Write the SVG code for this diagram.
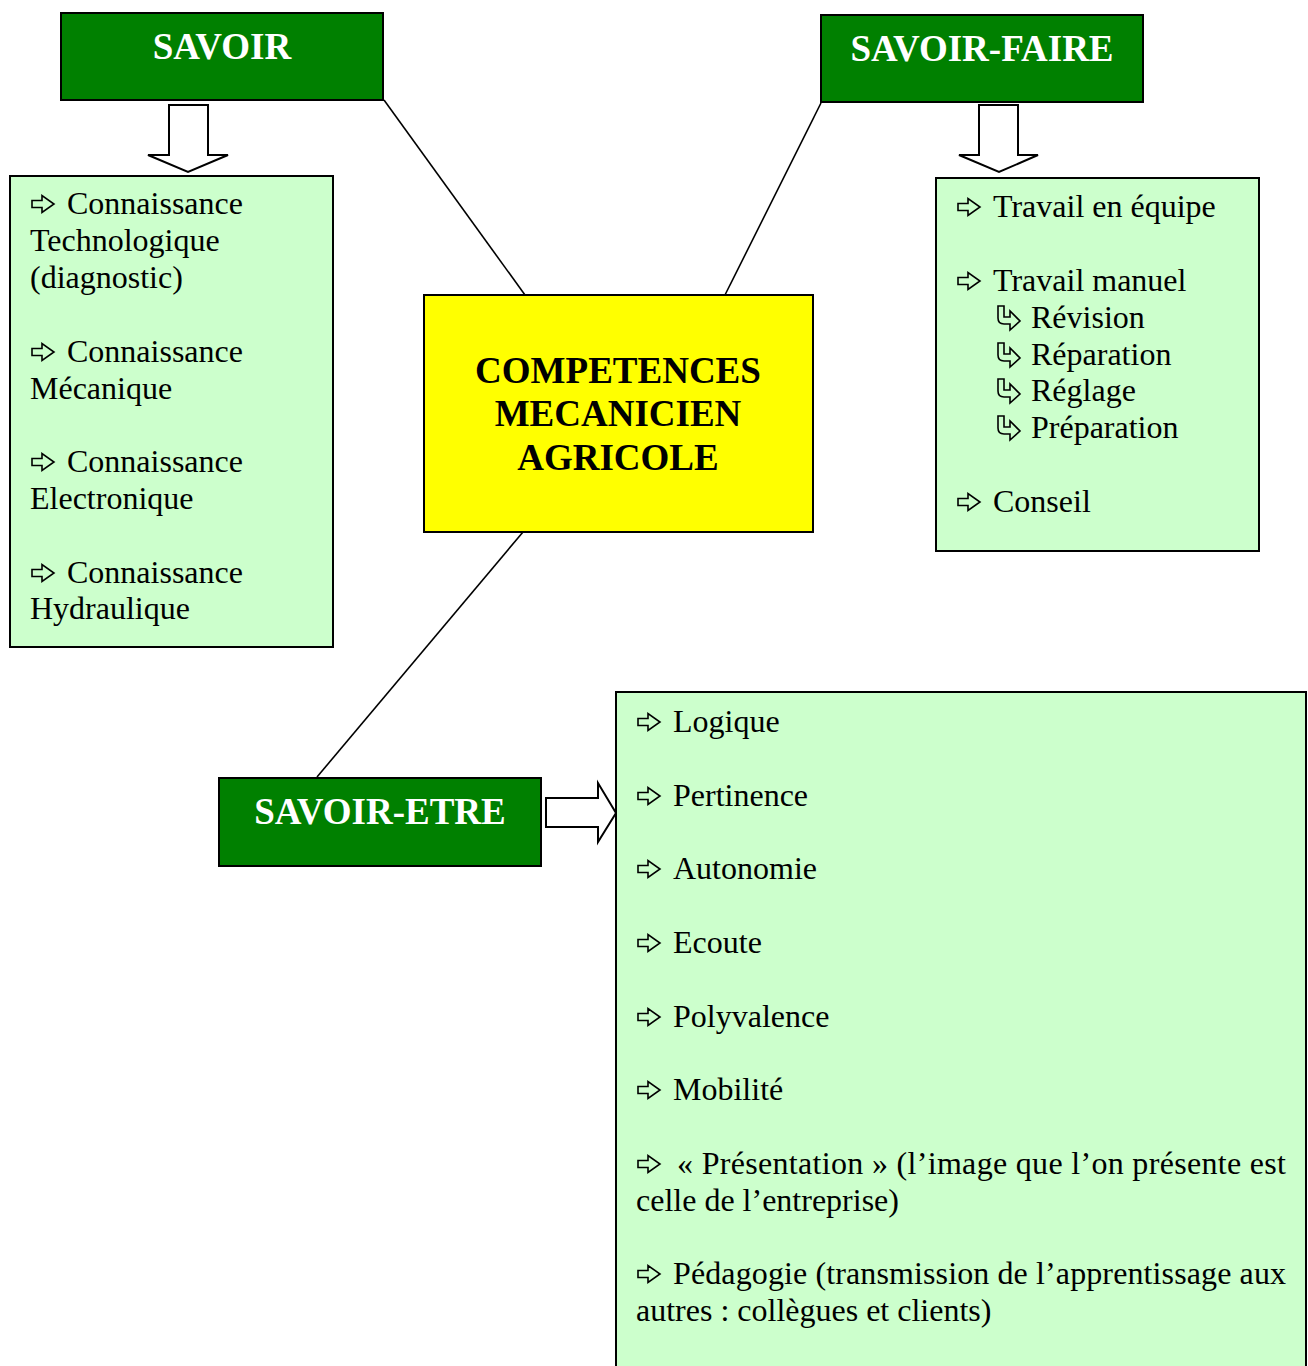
<svg xmlns="http://www.w3.org/2000/svg" width="1308" height="1366" viewBox="0 0 1308 1366">
<style>
.hdr{fill:#008000;stroke:#000;stroke-width:2}
.hdrt{font-family:"Liberation Serif",serif;font-weight:bold;font-size:37px;fill:#fff;text-anchor:middle}
.list{fill:#CCFFCC;stroke:#000;stroke-width:2}
.t{font-family:"Liberation Serif",serif;font-size:32px;fill:#000}
.ct{font-family:"Liberation Serif",serif;font-weight:bold;font-size:37px;fill:#000;text-anchor:middle}
.bar{fill:#fff;stroke:#000;stroke-width:2;stroke-linejoin:miter}
.ico{fill:none;stroke:#000;stroke-width:1.6;stroke-linejoin:miter}
.conn{stroke:#000;stroke-width:1.6;fill:none}
</style>
<defs>
<symbol id="ar" overflow="visible"><path class="ico" d="M0,-3.5 H10 V-8.5 L22,0 L10,8.5 V3.5 H0 Z"/></symbol>
<symbol id="hk" overflow="visible"><path class="ico" d="M0,0 H6 V11 H12 V5 L22,15 L12,24 V18 H6 Q0,18 0,12 Z"/></symbol>
</defs>

<g id="connectors">
<line class="conn" x1="384" y1="100" x2="525" y2="295"/>
<line class="conn" x1="821" y1="103" x2="725" y2="295"/>
<line class="conn" x1="523" y1="532" x2="317" y2="777"/>
<path class="bar" d="M169,105 H208 V155 H228 L188,172 L148,155 H169 Z"/>
<path class="bar" d="M979,105 H1018 V155 H1038 L999,172 L959,155 H979 Z"/>
<path class="bar" d="M546,798 H598 V783 L616,813 L598,842 V827 H546 Z"/>
</g>

<g id="savoir">
<rect class="hdr" x="61" y="13" width="322" height="87"/>
<text class="hdrt" x="222" y="59">SAVOIR</text>
</g>

<g id="savoir-faire">
<rect class="hdr" x="821" y="15" width="322" height="87"/>
<text class="hdrt" x="982" y="61">SAVOIR-FAIRE</text>
</g>

<g id="savoir-etre">
<rect class="hdr" x="219" y="778" width="322" height="88"/>
<text class="hdrt" x="380" y="824">SAVOIR-ETRE</text>
</g>

<g id="center">
<rect x="424" y="295" width="389" height="237" fill="#FFFF00" stroke="#000" stroke-width="2"/>
<text class="ct" x="618" y="383">COMPETENCES</text>
<text class="ct" x="618" y="426">MECANICIEN</text>
<text class="ct" x="618" y="470">AGRICOLE</text>
</g>

<g id="savoir-list">
<rect class="list" x="10" y="176" width="323" height="471"/>
<use href="#ar" x="32" y="204"/>
<text class="t" x="67" y="214">Connaissance</text>
<text class="t" x="30" y="251">Technologique</text>
<text class="t" x="30" y="288">(diagnostic)</text>
<use href="#ar" x="32" y="352"/>
<text class="t" x="67" y="362">Connaissance</text>
<text class="t" x="30" y="399">Mécanique</text>
<use href="#ar" x="32" y="462"/>
<text class="t" x="67" y="472">Connaissance</text>
<text class="t" x="30" y="509">Electronique</text>
<use href="#ar" x="32" y="573"/>
<text class="t" x="67" y="583">Connaissance</text>
<text class="t" x="30" y="619">Hydraulique</text>
</g>

<g id="savoir-faire-list">
<rect class="list" x="936" y="178" width="323" height="373"/>
<use href="#ar" x="958" y="207"/>
<text class="t" x="993" y="217">Travail en équipe</text>
<use href="#ar" x="958" y="281"/>
<text class="t" x="993" y="291">Travail manuel</text>
<use href="#hk" x="998" y="306"/>
<text class="t" x="1031" y="328">Révision</text>
<use href="#hk" x="998" y="343"/>
<text class="t" x="1031" y="365">Réparation</text>
<use href="#hk" x="998" y="379"/>
<text class="t" x="1031" y="401">Réglage</text>
<use href="#hk" x="998" y="416"/>
<text class="t" x="1031" y="438">Préparation</text>
<use href="#ar" x="958" y="502"/>
<text class="t" x="993" y="512">Conseil</text>
</g>

<g id="savoir-etre-list">
<rect class="list" x="616" y="692" width="690" height="700"/>
<use href="#ar" x="638" y="722"/>
<text class="t" x="673" y="732">Logique</text>
<use href="#ar" x="638" y="796"/>
<text class="t" x="673" y="806">Pertinence</text>
<use href="#ar" x="638" y="869"/>
<text class="t" x="673" y="879">Autonomie</text>
<use href="#ar" x="638" y="943"/>
<text class="t" x="673" y="953">Ecoute</text>
<use href="#ar" x="638" y="1017"/>
<text class="t" x="673" y="1027">Polyvalence</text>
<use href="#ar" x="638" y="1090"/>
<text class="t" x="673" y="1100">Mobilité</text>
<use href="#ar" x="638" y="1164"/>
<text class="t" x="677" y="1174" textLength="609" lengthAdjust="spacing">« Présentation » (l’image que l’on présente est</text>
<text class="t" x="636" y="1211">celle de l’entreprise)</text>
<use href="#ar" x="638" y="1274"/>
<text class="t" x="673" y="1284" textLength="613" lengthAdjust="spacing">Pédagogie (transmission de l’apprentissage aux</text>
<text class="t" x="636" y="1321">autres : collègues et clients)</text>
</g>
</svg>
